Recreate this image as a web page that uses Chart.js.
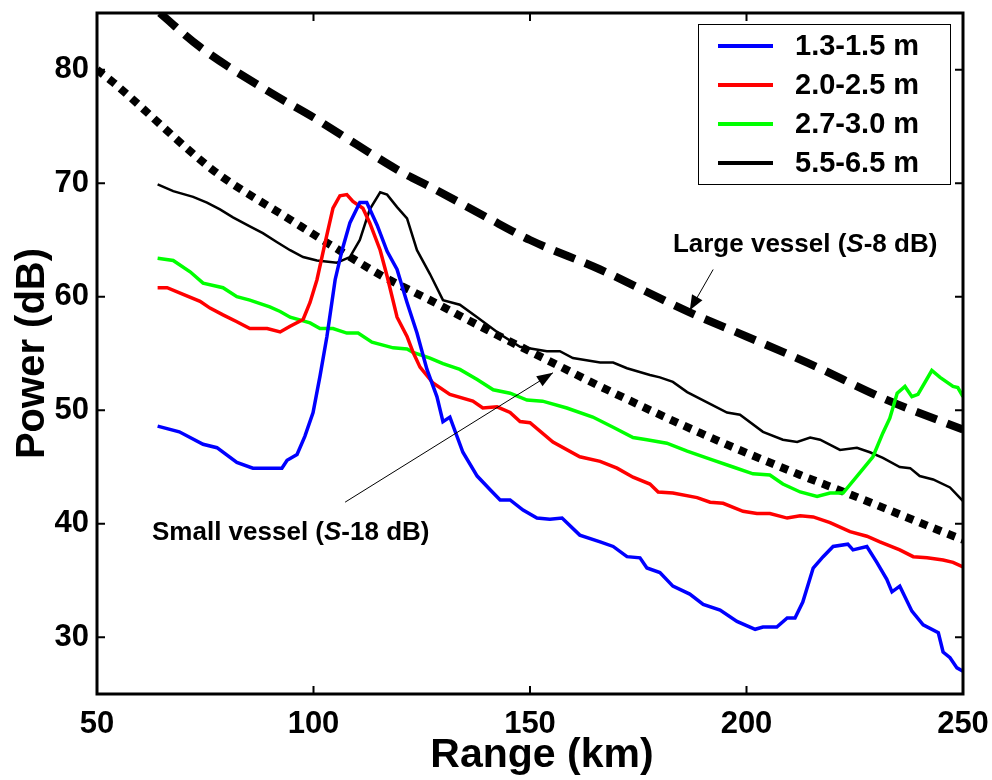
<!DOCTYPE html>
<html><head><meta charset="utf-8">
<script src="https://cdn.jsdelivr.net/npm/chart.js@4.4.1/dist/chart.umd.min.js"></script>
<style>html,body{margin:0;padding:0;background:#fff;}</style>
</head><body>
<canvas id="c" width="992" height="780"></canvas>
<script>
// ---- data ----
const seriesLabels = ['1.3-1.5 m', '2.0-2.5 m', '2.7-3.0 m', '5.5-6.5 m'];
const xTickValues = [50, 100, 150, 200, 250];
const yTickValues = [30, 40, 50, 60, 70, 80];
const xTitle = 'Range (km)';
const yTitle = 'Power (dB)';

const rangeBlue = [64, 69, 74.5, 77.7, 82.3, 86, 90.6, 92.7, 93.9, 96.2, 98, 99.9, 101.5, 103.1, 105, 106.6, 108.4, 110.7, 112.3, 114.7, 117, 119.3, 121.6, 123.9, 126.2, 128.5, 129.9, 131.5, 134.5, 137.8, 140.8, 143.1, 145.4, 148.4, 151.6, 154.6, 157.4, 161.5, 166.2, 169.2, 172.4, 175.4, 177, 180, 183, 186.9, 190, 193.9, 197.8, 202, 203.8, 207, 209.4, 211.2, 213, 215.4, 217.7, 220, 223.4, 224.6, 227.8, 230.1, 232.4, 233.6, 235.4, 238.2, 240.8, 244.3, 245.4, 247, 248.6, 250];
const powerBlue = [48.6, 48.1, 47.0, 46.7, 45.4, 44.9, 44.9, 44.9, 45.6, 46.1, 47.7, 49.8, 53.0, 56.5, 61.5, 64.1, 66.5, 68.3, 68.3, 66.3, 64.0, 62.4, 59.5, 56.8, 53.6, 51.2, 49.0, 49.4, 46.3, 44.2, 43.0, 42.1, 42.1, 41.2, 40.5, 40.4, 40.5, 39.0, 38.4, 38.0, 37.1, 37.0, 36.1, 35.7, 34.5, 33.8, 32.9, 32.4, 31.4, 30.7, 30.9, 30.9, 31.7, 31.7, 33.1, 36.1, 37.1, 38.0, 38.2, 37.7, 38.0, 36.6, 35.1, 34.0, 34.5, 32.3, 31.1, 30.4, 28.7, 28.2, 27.3, 27.0];

const rangeRed = [64, 66.2, 69.9, 73.8, 76.1, 79.1, 82.3, 85.3, 89.3, 92.3, 94.6, 97.6, 99.2, 100.8, 102.7, 104.5, 106.1, 107.7, 109.1, 111.4, 113, 115.4, 117, 119.3, 121.6, 123, 124.6, 127.6, 131.5, 136.8, 139.1, 142.4, 145.4, 147.7, 150, 155.3, 161.5, 166.2, 170.1, 173.8, 177.7, 179.6, 183, 188.6, 191.6, 194.6, 199.2, 202.4, 205.4, 209.4, 212.4, 215.4, 219.3, 223.9, 227.8, 230.8, 235.4, 238.5, 241.7, 245.4, 247.7, 250];
const powerRed = [60.8, 60.8, 60.2, 59.6, 59.0, 58.4, 57.8, 57.2, 57.2, 56.9, 57.4, 58.0, 59.5, 61.5, 64.8, 67.8, 68.9, 69.0, 68.4, 67.8, 66.5, 64.1, 61.8, 58.2, 56.5, 55.1, 53.8, 52.4, 51.4, 50.8, 50.2, 50.3, 49.8, 49.0, 48.9, 47.2, 45.9, 45.5, 44.9, 44.1, 43.5, 42.8, 42.7, 42.3, 41.9, 41.8, 41.1, 40.9, 40.9, 40.5, 40.7, 40.6, 40.1, 39.3, 38.9, 38.4, 37.7, 37.1, 37.0, 36.8, 36.6, 36.2];

const rangeGreen = [64, 67.6, 71.5, 74.5, 79.1, 82.3, 85.3, 89.9, 92.3, 94.6, 99.2, 101.5, 104.5, 107.7, 110.3, 113.5, 118.4, 121.6, 123, 126.9, 129.9, 133.8, 137.8, 141.5, 145.4, 149.3, 152.9, 158.5, 164.5, 169.2, 173.8, 177, 181.6, 186.3, 191.6, 196.9, 201.5, 205.4, 208.4, 212.4, 216.3, 219.3, 222.3, 226.2, 229.2, 231.5, 233.1, 234.8, 236.6, 238.2, 239.6, 242.8, 244.7, 247.7, 248.8, 250];
const powerGreen = [63.4, 63.2, 62.2, 61.2, 60.8, 60.0, 59.7, 59.1, 58.7, 58.2, 57.7, 57.2, 57.2, 56.8, 56.8, 56.0, 55.5, 55.4, 55.1, 54.6, 54.1, 53.6, 52.7, 51.8, 51.5, 50.9, 50.8, 50.2, 49.4, 48.5, 47.6, 47.4, 47.1, 46.4, 45.7, 45.0, 44.4, 44.3, 43.5, 42.8, 42.4, 42.7, 42.7, 44.5, 45.9, 48.0, 49.3, 51.5, 52.1, 51.2, 51.4, 53.5, 52.9, 52.1, 52.0, 51.2];

const rangeBlack = [64, 67.6, 72.2, 75.4, 78.4, 81.4, 85.3, 88.3, 91.6, 94.6, 97.6, 100.8, 105.4, 108.4, 110.7, 113, 115.4, 117, 119.3, 121.6, 123.9, 126.9, 129.9, 133.8, 137.8, 143.1, 147.7, 153.9, 156.9, 159.9, 166.2, 169.2, 172.4, 177.7, 180, 183, 186.3, 190.9, 195.5, 198.5, 203.8, 208.4, 211.7, 214.7, 217, 221.6, 225.5, 228.5, 231.5, 235.4, 237.8, 240, 243.1, 247, 250];
const powerBlack = [69.9, 69.3, 68.8, 68.3, 67.7, 67.0, 66.2, 65.6, 64.8, 64.1, 63.5, 63.2, 63.0, 63.5, 65.0, 67.7, 69.2, 69.0, 67.9, 66.9, 64.1, 62.0, 59.7, 59.3, 58.2, 56.7, 55.6, 55.2, 55.2, 54.6, 54.2, 54.2, 53.7, 53.1, 52.9, 52.5, 51.6, 50.7, 49.8, 49.6, 48.1, 47.4, 47.2, 47.6, 47.4, 46.5, 46.7, 46.3, 45.8, 45.0, 44.9, 44.2, 43.9, 43.2, 42.0];

const rangeLarge = [64.5, 73.8, 90, 100, 110, 120.7, 126.9, 140, 150, 166.2, 187, 200, 214, 233.1, 250];
const powerLarge = [85.0, 82.0, 78.0, 75.8, 73.4, 70.9, 69.7, 67.0, 65.0, 62.4, 58.6, 56.5, 54.2, 50.8, 48.3];

const rangeSmall = [50, 53.7, 73.1, 78.4, 94.6, 103.8, 116, 126.9, 140, 156.2, 166.2, 189.3, 212.4, 223.2, 248.6, 250];
const powerSmall = [80.0, 78.9, 72.3, 70.7, 66.8, 64.6, 61.8, 59.7, 57.1, 54.0, 52.1, 48.0, 44.3, 42.7, 38.8, 38.6];

const annLarge = 'Large vessel';
const annSmall = 'Small vessel';

// ---- build ----
const toPts = (xs, ys) => xs.map((x, i) => ({x: x, y: ys[i]}));
const FONT = "'Liberation Sans', Arial, sans-serif";

function seriesDs(label, xs, ys, color, w) {
  return {label, data: toPts(xs, ys), borderColor: color, backgroundColor: color,
    borderWidth: w, pointRadius: 0, tension: 0, fill: false, clip: 0, showLine: true};
}

const datasets = [
  seriesDs(seriesLabels[0], rangeBlue, powerBlue, '#0000ff', 3.5),
  seriesDs(seriesLabels[1], rangeRed, powerRed, '#ff0000', 3.5),
  seriesDs(seriesLabels[2], rangeGreen, powerGreen, '#00ff00', 3.5),
  seriesDs(seriesLabels[3], rangeBlack, powerBlack, '#000000', 2.5),
  {label: 'large', data: toPts(rangeLarge, powerLarge), borderColor: '#000', borderWidth: 8,
   borderDash: [22, 11], pointRadius: 0, cubicInterpolationMode: 'monotone', fill: false, clip: 0, borderCapStyle: 'butt'},
  {label: 'small', data: toPts(rangeSmall, powerSmall), borderColor: '#000', borderWidth: 8,
   borderDash: [8, 7], pointRadius: 0, cubicInterpolationMode: 'monotone', fill: false, clip: 0, borderCapStyle: 'butt'}
];

function arrow(ctx, x0, y0, x1, y1, len, half) {
  ctx.beginPath(); ctx.moveTo(x0, y0); ctx.lineTo(x1, y1); ctx.stroke();
  const a = Math.atan2(y1 - y0, x1 - x0);
  ctx.beginPath();
  ctx.moveTo(x1, y1);
  ctx.lineTo(x1 - len * Math.cos(a) + half * Math.sin(a), y1 - len * Math.sin(a) - half * Math.cos(a));
  ctx.lineTo(x1 - len * Math.cos(a) - half * Math.sin(a), y1 - len * Math.sin(a) + half * Math.cos(a));
  ctx.closePath(); ctx.fill();
}

function annText(ctx, x, y, name, db) {
  ctx.textBaseline = 'middle'; ctx.textAlign = 'left';
  let s = name + ' (';
  ctx.font = 'bold 26px ' + FONT; ctx.fillText(s, x, y); x += ctx.measureText(s).width;
  ctx.font = 'italic bold 26px ' + FONT; ctx.fillText('S', x, y); x += ctx.measureText('S').width;
  s = '-' + db + ' dB)';
  ctx.font = 'bold 26px ' + FONT; ctx.fillText(s, x, y);
}

const framePlugin = {
  id: 'frame',
  afterDatasetsDraw(chart) {
    const {ctx, chartArea: a, scales: {x, y}} = chart;
    ctx.save();
    ctx.fillStyle = '#000'; ctx.strokeStyle = '#000';
    // annotations
    ctx.lineWidth = 1;
    arrow(ctx, x.getPixelForValue(192.3), y.getPixelForValue(62.4), x.getPixelForValue(186.9), y.getPixelForValue(58.8), 15, 6);
    arrow(ctx, x.getPixelForValue(107.3), y.getPixelForValue(41.9), x.getPixelForValue(155.3), y.getPixelForValue(53.3), 16, 6);
    annText(ctx, x.getPixelForValue(183), y.getPixelForValue(64.6), annLarge, 8);
    annText(ctx, x.getPixelForValue(62.7), y.getPixelForValue(39.2), annSmall, 18);
    // legend
    const lw = 252, lh = 160;
    const lx = a.right - 13 - lw, ly = a.top + 11;
    ctx.fillStyle = '#fff'; ctx.fillRect(lx, ly, lw, lh);
    ctx.lineWidth = 1; ctx.strokeStyle = '#000';
    ctx.strokeRect(lx + 0.5, ly + 0.5, lw, lh);
    ctx.font = 'bold 29px ' + FONT; ctx.textBaseline = 'middle'; ctx.textAlign = 'left';
    for (let i = 0; i < 4; i++) {
      const ds = chart.data.datasets[i];
      const cy = ly + 22 + i * 39;
      ctx.strokeStyle = ds.borderColor; ctx.lineWidth = 4;
      ctx.beginPath(); ctx.moveTo(lx + 20, cy); ctx.lineTo(lx + 75, cy); ctx.stroke();
      ctx.fillStyle = '#000';
      ctx.fillText(ds.label, lx + 97, cy + 1);
    }
    // frame + inward ticks
    ctx.strokeStyle = '#000'; ctx.lineWidth = 3;
    ctx.strokeRect(a.left, a.top, a.right - a.left, a.bottom - a.top);
    ctx.lineWidth = 2;
    const tk = 8;
    xTickValues.forEach(v => {
      const px = x.getPixelForValue(v);
      ctx.beginPath(); ctx.moveTo(px, a.bottom); ctx.lineTo(px, a.bottom - tk);
      ctx.moveTo(px, a.top); ctx.lineTo(px, a.top + tk); ctx.stroke();
    });
    yTickValues.forEach(v => {
      const py = y.getPixelForValue(v);
      ctx.beginPath(); ctx.moveTo(a.left, py); ctx.lineTo(a.left + tk, py);
      ctx.moveTo(a.right, py); ctx.lineTo(a.right - tk, py); ctx.stroke();
    });
    // x axis title (slightly right of centre, as in the reference)
    ctx.fillStyle = '#000';
    ctx.font = 'bold 41px ' + FONT; ctx.textAlign = 'center'; ctx.textBaseline = 'middle';
    ctx.fillText(xTitle, (a.left + a.right) / 2 + 12, 756);
    ctx.restore();
  }
};

function noPad(s) { s.paddingTop = 0; s.paddingBottom = 0; s.paddingLeft = 0; s.paddingRight = 0; }

new Chart(document.getElementById('c'), {
  type: 'line',
  data: {datasets},
  options: {
    responsive: false, animation: false, devicePixelRatio: 1,
    layout: {padding: {left: 0, top: 13, right: 29, bottom: 0}},
    plugins: {legend: {display: false}, tooltip: {enabled: false}},
    scales: {
      x: {
        type: 'linear', min: 50, max: 250,
        afterBuildTicks: s => { s.ticks = xTickValues.map(v => ({value: v})); },
        afterFit: s => { s.height = 86; noPad(s); },
        grid: {display: false, drawTicks: false}, border: {display: false},
        ticks: {color: '#000', padding: 12, maxRotation: 0, font: {family: FONT, size: 31, weight: 'bold'}},
        title: {display: false}
      },
      y: {
        type: 'linear', min: 25, max: 85,
        afterBuildTicks: s => { s.ticks = yTickValues.map(v => ({value: v})); },
        afterFit: s => { s.width = 97; noPad(s); },
        grid: {display: false, drawTicks: false}, border: {display: false},
        ticks: {color: '#000', padding: 8, font: {family: FONT, size: 31, weight: 'bold'}},
        title: {display: true, text: yTitle, color: '#000', padding: {top: 9, bottom: 0},
                font: {family: FONT, size: 40, weight: 'bold'}}
      }
    }
  },
  plugins: [framePlugin]
});
</script>
</body></html>
